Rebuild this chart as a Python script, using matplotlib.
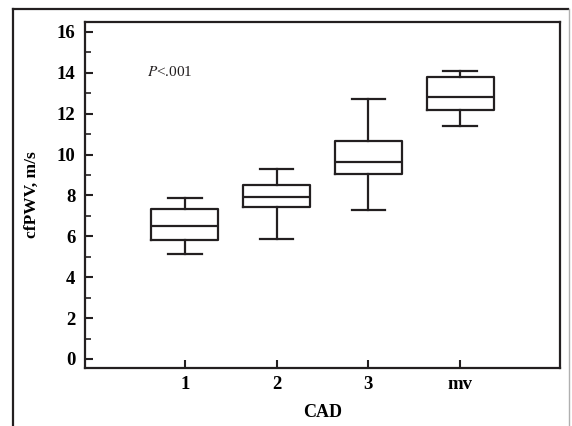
import matplotlib
matplotlib.use('Agg')
import matplotlib.pyplot as plt
from matplotlib.lines import Line2D

plt.rcParams['font.family'] = ['Liberation Serif', 'DejaVu Serif']
plt.rcParams['mathtext.fontset'] = 'stix'

# box stats (cfPWV, m/s)
groups = ['1', '2', '3', 'mv']
whisker_low = [5.14, 5.86, 7.30, 11.41]
q1 = [5.84, 7.42, 9.04, 12.18]
median = [6.51, 7.94, 9.62, 12.82]
q3 = [7.35, 8.53, 10.67, 13.81]
whisker_high = [7.86, 9.28, 12.70, 14.07]

stats = []
for i, g in enumerate(groups):
    stats.append({'label': g, 'whislo': whisker_low[i], 'q1': q1[i], 'med': median[i],
                  'q3': q3[i], 'whishi': whisker_high[i], 'fliers': []})

fig = plt.figure(figsize=(5.72, 4.26), dpi=100)
ax = fig.add_axes([0.1486, 0.1362, 0.8304, 0.8122])

lw = 1.6
col = '#231f20'
ax.bxp(stats, positions=[1, 2, 3, 4], widths=0.73, showfliers=False,
       boxprops=dict(color=col, linewidth=lw),
       whiskerprops=dict(color=col, linewidth=lw),
       capprops=dict(color=col, linewidth=lw),
       medianprops=dict(color=col, linewidth=lw))

ax.set_xlim(-0.09, 5.09)
ax.set_ylim(-0.44, 16.49)
ax.set_yticks(range(0, 17, 2))
ax.set_yticks(range(1, 17, 2), minor=True)
ax.set_xticks([1, 2, 3, 4])
ax.set_xticklabels(groups)

for s in ax.spines.values():
    s.set_linewidth(1.6)
    s.set_color(col)

ax.tick_params(axis='both', which='major', direction='in', length=6, width=1.5,
               color=col, labelsize=13.5)
ax.tick_params(axis='y', which='minor', direction='in', length=4, width=1.2, color=col)
ax.tick_params(axis='y', which='major', pad=7)
ax.tick_params(axis='x', which='major', pad=6)
for lab in ax.get_xticklabels() + ax.get_yticklabels():
    lab.set_fontweight('bold')

ax.set_ylabel('cfPWV, m/s', fontsize=12.5, fontweight='bold', labelpad=12)
ax.set_xlabel('CAD', fontsize=13, fontweight='bold', labelpad=8)

ax.text(0.13, 0.845, '$P$<.001', transform=ax.transAxes, fontsize=11, color=col)

# outer frame
fig.add_artist(Line2D([13/572, 13/572], [0, 1 - 9/426], transform=fig.transFigure,
                      color=col, linewidth=1.6))
fig.add_artist(Line2D([13/572, 568/572], [1 - 9/426, 1 - 9/426], transform=fig.transFigure,
                      color=col, linewidth=1.6))
fig.add_artist(Line2D([569/572, 569/572], [0, 1 - 9/426], transform=fig.transFigure,
                      color='#b0b0b0', linewidth=1.0))

fig.savefig('out.png', dpi=100)
